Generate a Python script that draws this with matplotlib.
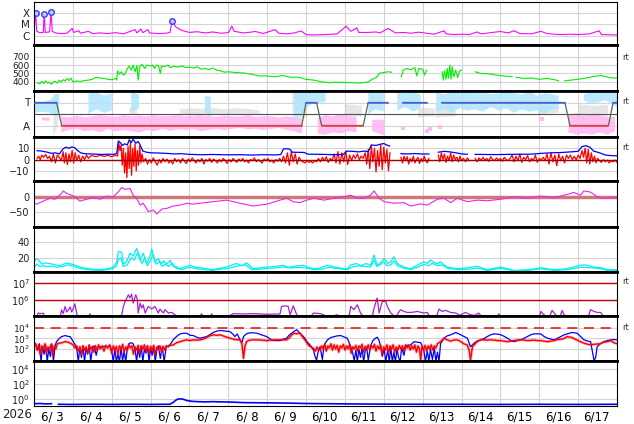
import numpy as np
import matplotlib.pyplot as plt
from matplotlib.ticker import NullLocator

nan = np.nan

# x axis: days since the left edge of the plot
day_labels = ['6/ 3', '6/ 4', '6/ 5', '6/ 6', '6/ 7', '6/ 8', '6/ 9', '6/10',
              '6/11', '6/12', '6/13', '6/14', '6/15', '6/16', '6/17']

# panel 1: X-ray flux (W/m2)
xray_t = [0.0, 0.04, 0.07, 0.15, 0.24, 0.26, 0.29, 0.40, 0.44, 0.47, 0.55, 0.7, 0.85, 0.98, 1.02,
          1.15, 1.2, 1.4, 1.5, 1.7, 1.9, 2.1, 2.3, 2.6, 2.65, 2.75, 2.8, 2.93, 2.97, 3.2, 3.4, 3.5,
          3.55, 3.65, 3.8, 4.0, 4.2, 4.4, 4.6, 4.8, 5.0, 5.09, 5.15, 5.4, 5.7, 5.9, 6.2, 6.3, 6.5,
          6.7, 6.87, 7.0, 7.2, 7.5, 7.8, 8.03, 8.15, 8.31, 8.35, 8.6, 8.8, 8.9, 9.11, 9.3, 9.5,
          9.7, 9.9, 10.1, 10.3, 10.55, 10.6, 10.8, 11.0, 11.2, 11.4, 11.5, 11.8, 12.0, 12.2, 12.35,
          12.5, 12.8, 13.04, 13.2, 13.5, 13.8, 14.0, 14.3, 14.54, 14.6, 15.0]
xray_f = [2.5e-6, 1.0e-4, 2.5e-6, 1.9e-6, 2.0e-6, 8.5e-5, 2.0e-6, 2.2e-6, 1.15e-4, 2.5e-6, 1.8e-6,
          1.6e-6, 1.7e-6, 4.5e-6, 2.0e-6, 2.8e-6, 1.7e-6, 2.5e-6, 1.6e-6, 1.8e-6, 1.6e-6, 1.9e-6,
          1.5e-6, 3.5e-6, 1.8e-6, 4.0e-6, 1.9e-6, 3.5e-6, 1.8e-6, 1.6e-6, 1.7e-6, 2.0e-6, 2.0e-5,
          6.0e-6, 3.0e-6, 2.0e-6, 2.3e-6, 1.8e-6, 2.2e-6, 1.7e-6, 1.9e-6, 7.0e-6, 2.5e-6, 1.8e-6,
          2.4e-6, 1.6e-6, 3.5e-6, 1.7e-6, 1.5e-6, 1.8e-6, 2.7e-6, 1.3e-6, 1.2e-6, 1.3e-6, 1.5e-6,
          7.0e-6, 2.5e-6, 5.0e-6, 2.0e-6, 2.0e-6, 2.2e-6, 1.8e-6, 4.5e-6, 1.8e-6, 2.0e-6, 1.7e-6,
          2.1e-6, 1.7e-6, 1.4e-6, 2.8e-6, 1.5e-6, 1.3e-6, 1.4e-6, 1.3e-6, 2.2e-6, 1.5e-6, 2.0e-6,
          2.4e-6, 1.8e-6, 2.8e-6, 1.6e-6, 1.5e-6, 2.5e-6, 1.6e-6, 1.3e-6, 1.4e-6, 1.3e-6, 1.5e-6,
          2.8e-6, 1.3e-6, 1.2e-6]
flare_t = [0.04, 0.26, 0.44, 3.55]
flare_f = [1.0e-4, 8.5e-5, 1.15e-4, 2.0e-5]

# panel 2: solar wind speed (km/s)
vsw_t = [0.08, 0.15, 0.2, 0.25, 0.3, 0.35, 0.4, 0.45, 0.5, 0.55, 0.6, 0.65, 0.7, 0.75, 0.8, 0.85,
         0.9, 0.95, 1.0, 1.1, 1.2, 1.3, 1.4, 1.5, 1.6, 1.7, 1.8, 1.9, 2.0, 2.1, 2.13, 2.15, 2.2,
         2.25, 2.3, 2.35, 2.4, 2.45, 2.5, 2.55, 2.6, 2.65, 2.68, 2.72, 2.78, 2.85, 2.9, 3.0, 3.05,
         3.1, 3.15, 3.2, 3.25, 3.28, 3.35, 3.45, 3.5, 3.6, 3.7, 3.8, 3.9, 4.0, 4.1, 4.2, 4.3, 4.4,
         4.5, 4.6, 4.7, 4.8, 4.9, 5.0, 5.2, 5.4, 5.6, 5.8, 6.0, 6.2, 6.4, 6.6, 6.8, 7.0, 7.2, 7.4,
         7.6, 7.8, 8.0, 8.2, 8.4, 8.6, 8.7, 8.8, 8.9, 9.0, 9.1, 9.2, 9.3, 9.45, 9.5, 9.6, 9.7,
         9.8, 9.85, 9.9, 10.0, 10.05, 10.1, 10.15, 10.5, 10.53, 10.56, 10.6, 10.63, 10.66, 10.7,
         10.73, 10.76, 10.8, 10.85, 10.9, 10.95, 11.0, 11.05, 11.2, 11.25, 11.35, 11.5, 11.7,
         11.9, 12.1, 12.3, 12.35, 12.4, 12.6, 12.8, 13.0, 13.2, 13.4, 13.5, 13.55, 13.65, 13.8,
         14.0, 14.2, 14.4, 14.6, 14.8, 15.0]
vsw_v = [390, 375, 405, 380, 410, 385, 395, 370, 400, 405, 385, 420, 400, 425, 410, 440,
         415, 445, 400, 410, 405, 415, 420, 430, 455, 445, 440, 430, 425, 440, 420, 530, 490,
         520, 480, 500, 555, 590, 540, 600, 520, 595, 420, 580, 610, 560, 600, 590, 600,
         560, 600, 595, 500, 590, 580, 600, 570, 585, 575, 590, 570, 575, 565, 580, 550, 560,
         545, 565, 540, 530, 515, 520, 510, 505, 490, 470, 470, 460, 475, 455, 455, 430, 420, 400,
         390, 395, 392, 390, 385, 400, 430, 450, 505, 510, 520, 515, nan, 460, 540, 560, 545,
         570, 470, 560, 550, 480, 540, nan, 520, 420, 530, 430, 560, 440, 600,
         430, 580, 460, 540, 450, 530, 540, nan, 540, nan, 520, 500, 495,
         480, 470, 460, nan, 455, 440, 445, 430, 440, 425, 410, nan, 410, 420,
         430, 445, 465, 475, 450, 445]

# panel 3: IMF sector (T = 1, A = -1) and angle clouds
sector_t = [0, 0.58, 0.71, 6.89, 7.0, 7.27, 7.4, 8.47, 8.6, 9.1, 9.11, 9.49, 10.11, 10.12,
            10.5, 13.66, 13.79, 14.78, 14.9, 15.0]
sector_v = [1, 1, -1, -1, 1, 1, -1, -1, 1, 1, nan, 1, 1, nan, 1, 1, -1, -1, 1, 1]

pink_t = [0.2, 0.4, 0.55, 0.7, 0.9, 1.1, 1.3, 1.5, 1.7, 1.9, 2.1, 2.3, 2.5, 2.7, 2.9, 3.1, 3.3,
          3.5, 3.7, 3.9, 4.1, 4.3, 4.5, 4.7, 4.9, 5.1, 5.3, 5.5, 5.7, 5.9, 6.1, 6.3, 6.5, 6.7,
          6.9, 7.05, 7.3, 7.5, 7.7, 7.9, 8.1, 8.3, 8.45, 8.7, 9.03, 9.1, 13.75, 13.95, 14.15,
          14.35, 14.55, 14.75, 14.95]
pink_lo = [-0.55, -0.6, nan, -1.6, -1.4, -1.3, -1.5, -1.4, -1.6, -1.3, -1.5, -1.4, -1.5, -1.6,
           -1.4, -1.5, -1.3, -1.45, -1.35, -1.4, -1.3, -1.5, -1.4, -1.3, -1.4, -1.3, -1.2, -1.35,
           -1.3, -1.4, -1.3, -1.2, -1.4, -1.5, -1.7, nan, -1.7, -1.8, -1.6, -1.7, -1.5, -1.6, nan,
           -1.5, -1.9, nan, -1.6, -1.8, -1.7, -1.8, -1.6, -1.8, -1.5]
pink_hi = [-0.3, -0.3, nan, -0.2, -0.3, -0.15, -0.3, -0.2, -0.1, -0.2, -0.25, -0.1, -0.2, -0.15,
           -0.2, -0.1, -0.2, -0.15, -0.1, -0.2, -0.15, -0.1, -0.2, -0.25, -0.15, -0.2, -0.2, -0.1,
           -0.25, -0.2, -0.2, -0.3, -0.2, -0.3, -0.4, nan, -0.3, -0.1, -0.2, 0.0, -0.2, -0.3, nan,
           -0.5, -0.5, nan, -0.1, 0.1, -0.2, 0.0, -0.1, -0.3, -0.2]
pink_dot_t = [9.5, 10.12, 10.2, 10.45, 13.06, 8.8]
pink_dot_v = [-1.2, -1.5, -1.3, -1.1, -0.4, -1.0]

blue_t = [0.0, 0.2, 0.4, 0.55, 0.65, 0.75, 1.4, 1.6, 1.8, 2.0, 2.1, 2.5, 2.7, 2.8, 3.6, 3.65,
          4.4, 4.55, 4.65, 6.7, 6.9, 7.1, 7.3, 7.5, 7.6, 8.0, 8.1, 8.6, 8.8, 9.0, 9.2, 9.35, 9.55,
          9.75, 9.95, 10.1, 10.35, 10.55, 10.75, 10.95, 11.15, 11.35, 11.55, 11.75, 11.95, 12.15,
          12.35, 12.55, 12.75, 12.95, 13.15, 13.35, 13.5, 13.6, 14.15, 14.3, 14.5, 14.7, 14.9, 15.0]
blue_lo = [0.1, 0.2, 0.1, -0.2, 0.3, nan, 0.0, 0.4, 0.1, 0.3, nan, 0.2, 0.5, nan, 0.6, nan,
           0.0, -0.3, nan, -0.5, 0.0, 0.8, 1.0, 1.0, nan, 1.5, nan, 0.0, 0.4, 0.2, nan, 0.3, 0.6,
           0.2, 0.5, nan, 0.2, 0.4, 0.1, 0.5, 0.3, 0.4, 0.2, 0.6, 0.3, 0.5,
           0.1, 0.4, 0.2, 0.3, 0.0, 0.4, 0.5, nan, 1.2, 0.9, 1.0, 1.2, 0.8, 0.6]
blue_hi = [1.1, 1.0, 1.2, 1.7, 1.8, nan, 1.8, 1.9, 1.6, 1.8, nan, 1.9, 1.7, nan, 1.0, nan,
           1.6, 1.5, nan, 1.9, 1.8, 1.9, 1.9, 1.8, nan, 1.9, nan, 1.9, 1.8, 1.9, nan, 1.9, 1.8,
           1.9, 1.7, nan, 1.9, 1.7, 1.9, 1.8, 1.9, 1.8, 1.9, 1.7, 1.8, 1.9,
           1.8, 1.7, 1.9, 1.6, 1.8, 1.7, 1.6, nan, 1.7, 1.9, 1.8, 1.9, 1.9, 1.8]

gray_t = [0.5, 0.62, 0.7, 2.45, 2.65, 2.7, 3.75, 4.0, 4.3, 4.6, 4.9, 5.2, 5.5, 5.8, 6.0, 6.65,
          7.0, 7.05, 8.0, 8.44, 8.5, 9.88, 10.3, 10.32, 10.33, 10.85, 10.9, 12.97, 13.5, 13.55,
          14.0, 14.4, 14.77, 14.8]
gray_lo = [-1.9, -1.0, nan, 0.0, 0.0, nan, 0.0, -0.1, 0.0, -0.1, 0.0, -0.1, 0.0, 0.0, nan, -0.5,
           -0.3, nan, -0.3, -0.2, nan, -0.3, -0.2, nan, -0.3, -0.2, nan, 0.0, 0.1, nan,
           -0.6, -0.4, -0.5, nan]
gray_hi = [1.8, 1.5, nan, 0.55, 0.5, nan, 0.4, 0.5, 0.45, 0.55, 0.4, 0.5, 0.45, 0.3, nan, 1.9,
           1.8, nan, 0.85, 0.7, nan, 0.55, 0.5, nan, 0.85, 0.6, nan, 0.85, 0.6, nan,
           0.85, 0.7, 0.8, nan]

# panel 4: IMF Bt (blue) and Bz (red), nT
bt_t = [0.08, 0.2, 0.35, 0.45, 0.55, 0.65, 0.75, 0.82, 0.9, 0.97, 1.05, 1.12, 1.2, 1.3, 1.45,
        1.6, 1.75, 1.9, 2.05, 2.13, 2.17, 2.22, 2.28, 2.33, 2.4, 2.45, 2.5, 2.55, 2.62, 2.68,
        2.73, 2.8, 2.9, 3.0, 3.2, 3.4, 3.6, 3.8, 4.0, 4.3, 4.6, 5.0, 5.3, 5.6, 5.9, 6.2, 6.35,
        6.42, 6.5, 6.58, 6.65, 6.8, 6.95, 7.05, 7.2, 7.45, 7.7, 7.95, 8.05, 8.2, 8.35, 8.5, 8.6,
        8.68, 8.8, 8.9, 9.0, 9.08, 9.15, 9.2, 9.44, 9.6, 9.8, 10.0, 10.16, 10.2, 10.4, 10.55,
        10.7, 10.85, 11.0, 11.15, 11.25, 11.35, 11.6, 11.9, 12.2, 12.5, 12.8, 13.05, 13.3,
        13.55, 13.8, 14.0, 14.1, 14.2, 14.3, 14.4, 14.55, 14.7, 14.85, 15.0]
bt_v = [7.9, 7.5, 6.5, 5.5, 6.0, 5.0, 9.5, 11.0, 10.0, 11.2, 10.5, 8.0, 6.0, 5.2, 5.0,
        4.8, 4.5, 4.8, 4.6, 5.5, 16.5, 15.0, 12.5, 14.0, 13.0, 17.5, 15.0, 18.0, 14.5, 16.0,
        13.0, 7.5, 6.5, 6.0, 5.8, 5.5, 5.0, 5.2, 4.6, 4.3, 4.5, 4.2, 4.3, 4.0, 4.3, 4.1, 4.5,
        9.4, 9.6, 9.2, 6.5, 6.4, 6.3, 4.8, 4.7, 4.6, 4.3, 4.5, 7.5, 7.3, 6.8, 7.5, 7.0,
        13.0, 12.5, 13.5, 14.2, 12.8, 12.0, nan, 5.2, 5.0, 5.3, 4.9, 5.0, nan, 6.5, 7.3,
        6.8, 6.0, 5.0, 4.7, nan, 4.6, 4.5, 4.4, 4.6, 4.7, 4.8, 5.5, 6.0,
        6.2, 6.8, 7.3, 11.5, 12.3, 11.0, 7.5, 6.0, 4.0, 3.5, 3.3]

bz_t = [0.08, 0.12, 0.16, 0.2, 0.25, 0.3, 0.35, 0.4, 0.45, 0.5, 0.55, 0.6, 0.65, 0.7,
        0.75, 0.78, 0.82, 0.86, 0.9, 0.94, 0.98, 1.02, 1.06, 1.1,
        1.15, 1.2, 1.25, 1.3, 1.35, 1.4, 1.45, 1.5, 1.6, 1.7, 1.8, 1.9, 2.0, 2.1,
        2.15, 2.18, 2.21, 2.24, 2.27, 2.3, 2.33, 2.36, 2.39, 2.42, 2.45, 2.48, 2.51, 2.54,
        2.57, 2.6, 2.63, 2.66, 2.69, 2.72, 2.75, 2.78,
        2.82, 2.87, 2.92, 2.97, 3.02, 3.07, 3.12, 3.17, 3.22, 3.27, 3.32, 3.37, 3.42, 3.47,
        3.52, 3.57, 3.62, 3.67, 3.72, 3.77, 3.82, 3.87, 3.92, 3.97, 4.02, 4.07, 4.12, 4.17,
        4.22, 4.27, 4.32, 4.37, 4.42, 4.47, 4.52, 4.57, 4.62, 4.67, 4.72, 4.77, 4.82, 4.87,
        4.92, 4.97, 5.02, 5.07, 5.12, 5.17, 5.22, 5.27, 5.32, 5.37, 5.42, 5.47, 5.52, 5.57,
        5.62, 5.67, 5.72, 5.77, 5.82, 5.87, 5.92, 5.97, 6.02, 6.07, 6.12, 6.17, 6.22, 6.27,
        6.32, 6.37, 6.42, 6.47, 6.52, 6.57, 6.62, 6.67, 6.72, 6.77, 6.82, 6.87,
        6.92, 6.97, 7.02, 7.07, 7.12, 7.17, 7.22, 7.27, 7.32, 7.37, 7.42, 7.47, 7.52, 7.57,
        7.62, 7.67, 7.72, 7.77, 7.82, 7.87, 7.92, 7.97, 8.02, 8.07, 8.12, 8.17,
        8.22, 8.27, 8.32, 8.37, 8.42, 8.47, 8.52, 8.56, 8.6, 8.64, 8.68, 8.72, 8.76, 8.8,
        8.84, 8.88, 8.92, 8.96, 9.0, 9.04, 9.08, 9.12, 9.16, 9.19,
        9.44, 9.48, 9.52, 9.56, 9.6, 9.64, 9.68, 9.72, 9.76, 9.8, 9.84, 9.88, 9.92, 9.96,
        10.0, 10.04, 10.08, 10.12, 10.16, 10.2,
        10.4, 10.44, 10.48, 10.52, 10.56, 10.6, 10.64, 10.68, 10.72, 10.76, 10.8, 10.84,
        10.88, 10.92, 10.96, 11.0, 11.05, 11.1, 11.15, 11.2, 11.25, 11.35, 11.4,
        11.45, 11.5, 11.55, 11.6, 11.65, 11.7, 11.75, 11.8, 11.85, 11.9, 11.95, 12.0, 12.05,
        12.1, 12.15, 12.2, 12.25,
        12.3, 12.35, 12.4, 12.45, 12.5, 12.55, 12.6, 12.65, 12.7, 12.75, 12.8, 12.85, 12.9,
        12.95, 13.0, 13.05, 13.1,
        13.15, 13.2, 13.25, 13.3, 13.35, 13.4, 13.45, 13.5, 13.55, 13.6, 13.65, 13.7,
        13.75, 13.8, 13.85, 13.9, 13.95, 14.0, 14.05,
        14.1, 14.14, 14.18, 14.22, 14.26, 14.3, 14.34, 14.38, 14.42, 14.46, 14.5,
        14.55, 14.6, 14.65, 14.7, 14.75, 14.8, 14.85, 14.9, 14.95, 15.0]
bz_v = [1, 3, 0, 4, 2, 4.5, 1, 3, -2, 5, -3, 4, 2, -1,
        7, -3, 6, -4.5, 5, -2, 8, -3, 6, -1,
        4, -2, 3, 0, 4, 1, 3, 3.5, 2.5, 4, 2.8, 3.8, 2.5, 4,
        3, 15, 8, 13, -5, 10, -12, 6, -16, 12, -8, 15, -14, 10,
        -6, 14, -10, 8, -5, 12, -3, 5,
        -2, 1, -4, 0, -3, 1.5, -2, -5, 0, -3, 1, -2, 0.5, -3,
        -1, -4, 1, -2, 0, -3, 1, -1.5, -3.5, 0.5, -2, 1.5, -1, -3,
        0, -2, 1, -4, 0, -1.5, 1, -2.5, 0.5, -1, -3, 0, -2, 1,
        -1, -3.5, 0, -2, 1, -1, -2.5, 0.5, -1.5, 1, -2, -0.5, -3, 0,
        -1, 1.5, -2, 0, -1.5, -3, 0.5, -1, 1, -2, -0.5, -3, 0, -1.5,
        1, -2, 3, -3, 6, -5, 7, -2, 5, -4, 2, -1,
        -2, -3, -1, -2.5, -1.5, -3, -1, -2, 1, -2, 2, -1, 2.5, -2.5,
        1, -1, 5, -3, 7, -4, 6, -2, 7.5, -4.5, 4, -1,
        4, 1, 5, 0, 3, 1, 6, -4, 9, -8, 12, -2, 10, -11,
        8, -6, 13, -9, 11, -3, 9, -10, 6, nan,
        2, -3, 3, -1, 2.5, -4, 1, -2, 3, -3, 0, 2, -3.5, 1,
        -2, 3, -1, -3, 1, nan,
        4, -2, 6, 0, 5, -2.5, 3, -1, 6, -2, 4, 0,
        2, -2, 3, -1, 1, -2, 1.5, -1, nan, 1, -2,
        1.5, -1, 2, -0.5, 1, -1.5, 2.5, 0, -1, 1.5, -0.5, 1, -1.5,
        2, 0, -1, 1,
        4, -2, 3, -1, 5, -2.5, 2, 0, 3.5, -2, 1, -1, 4,
        -2.5, 1, -0.5, 2,
        -1, 5, -4, 6, -2, 4, -5.5, 5, -1, 3, -3, 4,
        1, 4, 0, 3, -0.5, 4, 1,
        8, 2, 10, -3, 9, -4, 6, -2, 3, -3, 1,
        -1, -2.5, 0, -2, -0.5, -3, -1, -2, -0.5, -2.5]

# panel 5: Dst (nT)
dst_t = [0.0, 0.07, 0.24, 0.41, 0.54, 0.71, 0.75, 0.84, 0.97, 1.05, 1.18, 1.36, 1.53, 1.70,
         1.87, 2.04, 2.17, 2.26, 2.34, 2.47, 2.55, 2.64, 2.73, 2.81, 2.94, 3.07, 3.16, 3.29,
         3.41, 3.58, 3.76, 3.93, 4.10, 4.27, 4.61, 4.96, 5.30, 5.64, 5.99, 6.33, 6.50, 6.67,
         6.84, 7.02, 7.20, 7.46, 7.72, 7.97, 8.15, 8.32, 8.49, 8.66, 8.75, 8.88, 9.01, 9.26,
         9.52, 9.69, 9.95, 10.12, 10.38, 10.55, 10.72, 10.89, 11.15, 11.41, 11.66, 12.01,
         12.35, 12.69, 13.04, 13.38, 13.72, 13.89, 14.06, 14.15, 14.32, 14.49, 14.66, 14.92, 15.0]
dst_v = [-21, -24, -14, -5, -8, 11, 19, 11, 5, 0, -14, -8, -2, -8,
         2, 0, 16, 30, 24, 27, 5, -5, -27, -21, -48, -43, -56, -40,
         -38, -30, -27, -21, -24, -21, -16, -11, -21, -30, -24, -11, -5, -16,
         -19, -11, -5, -11, -5, 0, 5, -5, -5, 5, 19, -5, -16, -21,
         -19, -30, -23, -27, -8, -5, -19, -5, -16, -11, -13, -8,
         0, -5, 2, -3, 7.5, 14, 5, 19, 15, 0, -5, -3, -3]

# panel 6: proton density, two sources
dens_a_t = [0.0, 0.05, 0.12, 0.2, 0.3, 0.41, 0.55, 0.67, 0.84, 0.97, 1.1, 1.18, 1.36, 1.5, 1.7,
            1.9, 2.04, 2.13, 2.17, 2.22, 2.26, 2.3, 2.38, 2.47, 2.55, 2.64, 2.7, 2.73, 2.81, 2.9,
            2.98, 3.03, 3.11, 3.2, 3.28, 3.33, 3.42, 3.5, 3.58, 3.7, 3.76, 4.01, 4.15, 4.27,
            4.45, 4.61, 4.8, 4.96, 5.1, 5.21, 5.35, 5.47, 5.64, 5.8, 5.99, 6.2, 6.41, 6.55,
            6.67, 6.8, 6.93, 7.05, 7.19, 7.35, 7.55, 7.8, 8.06, 8.15, 8.3, 8.4, 8.55, 8.66,
            8.75, 8.8, 8.83, 8.92, 9.01, 9.1, 9.18, 9.26, 9.35, 9.45, 9.52, 9.69, 9.86, 9.95,
            10.03, 10.12, 10.2, 10.3, 10.38, 10.46, 10.55, 10.63, 10.89, 11.1, 11.41, 11.66,
            12.01, 12.2, 12.35, 12.69, 12.9, 13.04, 13.2, 13.38, 13.55, 13.72, 13.9, 14.06,
            14.2, 14.32, 14.45, 14.58, 14.75, 15.0]
dens_a_v = [14, 19, 17, 12, 13.5, 12.7, 11, 10, 13.5, 12, 10, 8.3, 6.5, 5.5, 5,
            6, 8.3, 14.8, 27.8, 28, 26, 12, 14.8, 25.7, 22, 32, 24, 17, 25.7, 13,
            21.3, 31, 15, 19, 12, 16, 12, 17, 9, 8, 6.2, 10.5, 8, 7.5,
            6, 5, 7, 8.3, 11, 12.7, 10, 13.5, 6.2, 7, 8.3, 9, 10.5, 8,
            9.2, 10, 10.5, 8, 6.2, 7, 10.5, 7.5, 6, 11, 12.7, 10, 12.7, 10.5,
            23.5, 15, 10.5, 14, 19.2, 13, 14.8, 21.3, 12.7, 10, 8.3, 6.2, 10.5, 13,
            14.8, 13, 17, 14, 12.7, 14.8, 11, 8.3, 6.2, 7, 9.2, 5,
            8.3, 6, 4, 4.9, 6, 7.5, 6, 4.9, 5.5, 6.2, 8.5, 10.5,
            11, 9.2, 8, 7.5, 4.9, 4.9]
dens_b_t = [0.0, 0.08, 0.15, 0.25, 0.35, 0.45, 0.6, 0.75, 0.88, 1.0, 1.15, 1.3, 1.5, 1.7, 1.9,
            2.04, 2.13, 2.17, 2.24, 2.3, 2.4, 2.5, 2.58, 2.66, 2.72, 2.78, 2.85, 2.92, 3.0, 3.06,
            3.14, 3.22, 3.3, 3.38, 3.46, 3.55, 3.65, 3.8, 4.0, 4.2, 4.4, 4.6, 4.8, 5.0, 5.15,
            5.3, 5.45, 5.6, 5.8, 6.0, 6.2, 6.4, 6.6, 6.8, 7.0, 7.2, 7.4, 7.6, 7.85, 8.06, 8.2,
            8.35, 8.5, 8.66, 8.75, 8.82, 8.9, 9.0, 9.08, 9.18, 9.26, 9.35, 9.5, 9.7, 9.86,
            10.03, 10.15, 10.25, 10.38, 10.5, 10.65, 10.9, 11.2, 11.4, 11.66, 12.0, 12.35, 12.7,
            13.04, 13.4, 13.72, 14.06, 14.3, 14.58, 14.75, 15.0]
dens_b_v = [8, 12, 9, 10, 8.5, 9.5, 8, 9, 11, 9.5, 7, 5.5, 4.5, 4, 5,
            6.5, 10, 18, 20, 9, 11, 20, 17, 26, 19, 13, 20, 10, 17, 24,
            12, 15, 9, 12, 9, 13, 7, 5, 8, 6, 5, 4, 5.5, 6.5, 8.5,
            10, 11, 5, 5.5, 6.5, 7, 8.5, 7, 8, 7, 5, 5.5, 8, 6, 5, 8.5,
            10, 9, 8.5, 17, 9, 11, 15, 10, 11, 16, 10, 7, 5, 8,
            11.5, 10, 13, 10, 11, 6.5, 5, 5.5, 7, 4, 6.5, 3.5, 4,
            6, 4, 5, 8, 7.5, 6, 4, 4]

# panel 7: >2 MeV electron flux, log10
elec_t = [0.0, 0.07, 0.11, 0.15, 0.24, 0.28, 0.6, 0.67, 0.71, 0.75, 0.8, 0.84, 0.88, 0.93, 0.97,
          1.01, 1.05, 1.11, 1.2, 1.4, 1.44, 1.48, 2.2, 2.26, 2.3, 2.34, 2.43, 2.47, 2.51, 2.55,
          2.62, 2.66, 2.68, 2.73, 2.77, 2.81, 2.86, 2.94, 3.03, 3.11, 3.2, 3.24, 3.33, 3.37,
          3.46, 3.54, 3.63, 3.7, 4.25, 4.31, 4.37, 4.52, 4.57, 4.62, 5.05, 5.13, 5.4, 5.64,
          6.0, 6.33, 6.37, 6.46, 6.54, 6.59, 6.67, 6.76, 6.85, 7.1, 7.19, 7.36, 7.45, 7.55,
          7.8, 7.9, 8.1, 8.15, 8.23, 8.32, 8.4, 8.5, 8.7, 8.75, 8.83, 8.88, 8.96, 9.05, 9.09,
          9.18, 9.3, 9.43, 9.52, 9.6, 9.69, 9.8, 9.86, 9.95, 10.03, 10.12, 10.2, 10.35, 10.42,
          10.5, 10.59, 10.72, 10.85, 10.95, 11.1, 11.23, 11.35, 11.44, 11.55, 11.9, 11.96,
          12.02, 13.0, 13.04, 13.12, 13.25, 13.33, 13.42, 13.52, 13.59, 13.63, 13.8, 14.25,
          14.32, 14.41, 14.49, 14.58, 14.62, 14.7, 15.0]
elec_log = [4.9, 4.95, 5.24, 5.2, 5.22, 4.95, 4.9, 5.0, 5.43, 5.2, 5.62, 5.3, 5.4, 5.59, 5.3,
            5.5, 5.78, 5.1, 4.9, 5.0, 5.19, 4.95, 4.95, 5.14, 5.62, 5.9, 6.31, 6.12, 6.35, 5.82,
            6.31, 6.02, 5.235, 5.82, 5.53, 5.72, 5.235, 5.625, 5.47, 5.625, 5.235, 5.47, 5.235, 5.43,
            5.235, 5.27, 5.135, 4.95, 4.95, 5.19, 4.95, 4.95, 5.19, 4.95, 5.1, 5.2, 5.18, 5.2,
            5.16, 5.18, 5.625, 5.66, 5.625, 5.135, 5.66, 5.135, 4.95, 4.95, 5.235, 5.2, 5.14, 4.95,
            5.135, 4.95, 4.95, 5.625, 5.43, 5.72, 5.235, 4.95, 5.0, 5.53, 6.12, 5.235, 5.92, 5.92, 5.625,
            5.235, 5.0, 5.43, 5.33, 5.27, 5.27, 5.3, 5.33, 5.28, 5.235, 5.27, 4.95, 5.0, 5.47,
            5.33, 5.39, 5.27, 5.235, 5.1, 5.27, 5.135, 5.1, 5.235, 4.95, 4.95, 5.19,
            4.95, 4.95, 5.33, 5.135, 4.95, 5.39, 5.135, 4.95, 5.39, 5.135, 4.95, 4.95,
            5.43, 5.33, 5.27, 5.27, 5.135, 4.95, 4.95]

# panel 8: particle flux, log10 (blue and red)
p8_blue_t = [0.0, 0.05, 0.1, 0.14, 0.18, 0.22, 0.26, 0.3, 0.34, 0.38, 0.42, 0.46, 0.5, 0.54, 0.58,
             0.65, 0.71, 0.8, 0.88, 0.93, 1.01, 1.06, 1.1, 1.14, 1.18, 1.22, 1.26, 1.3, 1.34, 1.38,
             1.42, 1.46, 1.5, 1.55, 1.6, 1.65, 1.7, 1.8, 1.9, 1.96, 2.0, 2.04, 2.08, 2.12, 2.16,
             2.2, 2.24, 2.28, 2.32, 2.36, 2.4, 2.44, 2.5, 2.55, 2.6, 2.64, 2.68, 2.72, 2.76, 2.8,
             2.84, 2.88, 2.92, 2.96, 3.0, 3.04, 3.08, 3.12, 3.16, 3.2, 3.25, 3.3, 3.35, 3.4, 3.45,
             3.5, 3.58, 3.67, 3.76, 3.85, 3.93, 4.02, 4.1, 4.2, 4.27, 4.35, 4.44, 4.52, 4.61, 4.7,
             4.79, 4.9, 5.04, 5.12, 5.17, 5.23, 5.3, 5.35, 5.39, 5.45, 5.51, 5.6, 5.73, 5.85, 5.99,
             6.08, 6.16, 6.25, 6.33, 6.42, 6.5, 6.56, 6.63, 6.7, 6.76, 6.84, 6.9, 6.97, 7.02, 7.06,
             7.12, 7.19, 7.23, 7.27, 7.32, 7.36, 7.42, 7.46, 7.5, 7.55, 7.64, 7.72, 7.8, 7.89, 7.98,
             8.06, 8.15, 8.2, 8.24, 8.28, 8.32, 8.36, 8.4, 8.44, 8.48, 8.52, 8.56, 8.6, 8.66, 8.72,
             8.79, 8.83, 8.88, 8.92, 8.96, 9.01, 9.05, 9.1, 9.14, 9.18, 9.22, 9.26, 9.3, 9.34, 9.38,
             9.42, 9.46, 9.52, 9.56, 9.6, 9.69, 9.78, 9.86, 9.95, 10.03, 10.07, 10.12, 10.16, 10.2,
             10.25, 10.3, 10.34, 10.38, 10.42, 10.46, 10.55, 10.63, 10.72, 10.85, 10.98, 11.06,
             11.15, 11.23, 11.32, 11.4, 11.49, 11.58, 11.66, 11.75, 11.83, 11.92, 12.01, 12.1,
             12.18, 12.27, 12.35, 12.44, 12.52, 12.6, 12.69, 12.78, 12.86, 12.95, 13.04, 13.12,
             13.21, 13.3, 13.38, 13.46, 13.55, 13.64, 13.72, 13.84, 13.97, 14.06, 14.15, 14.25,
             14.32, 14.38, 14.41, 14.45, 14.49, 14.57, 14.66, 14.75, 14.84, 14.92, 15.0]
p8_blue_log = [2.7, 2.4, 1.9, 2.5, 0.8, 2.2, 1.5, 2.4, 0.8, 2.0, 1.3, 2.5, 0.8, 2.3, 2.7,
               3.0, 3.18, 3.28, 3.2, 3.18, 2.7, 2.4, 2.0, 0.8, 2.2, 1.2, 2.3, 0.8, 2.1, 1.5,
               2.4, 0.8, 2.0, 2.3, 1.4, 2.2, 2.2, 2.25, 2.2, 2.3, 1.8, 0.8, 2.0, 0.8, 1.5,
               0.8, 2.1, 0.9, 1.8, 0.8, 2.0, 2.5, 2.6, 2.5, 2.0, 0.8, 2.1, 1.2, 2.3, 0.8,
               2.0, 1.6, 2.3, 0.8, 2.1, 1.4, 2.2, 0.8, 1.9, 2.3, 1.1, 2.2, 0.8, 2.2, 2.3,
               2.4, 2.87, 3.2, 3.44, 3.5, 3.5, 3.3, 3.28, 3.1, 3.03, 3.1, 3.18, 3.35, 3.57, 3.7,
               3.76, 3.72, 3.66, 3.4, 3.18, 3.44, 2.87, 2.6, 3.18, 3.4, 3.51, 3.55, 3.51, 3.35, 3.18,
               2.95, 2.8, 2.8, 2.8, 2.95, 3.03, 3.3, 3.51, 3.7, 3.83, 3.51, 3.3, 3.03, 2.7, 2.55,
               2.3, 1.9, 1.3, 0.94, 1.9, 2.2, 1.0, 2.3, 2.6, 2.87, 3.1, 3.18, 3.25, 3.28, 3.15,
               3.03, 2.22, 1.6, 0.9, 1.9, 0.8, 2.0, 1.2, 2.1, 0.8, 1.8, 2.2, 0.9, 2.3, 2.8,
               3.03, 3.12, 2.8, 2.22, 1.3, 2.0, 0.8, 1.9, 0.8, 2.1, 0.8, 1.7, 0.8, 2.0, 1.2,
               0.8, 2.1, 1.4, 2.3, 2.35, 2.38, 2.7, 2.65, 2.61, 1.9, 0.8, 1.8, 0.8, 2.0,
               1.0, 2.1, 0.8, 1.7, 0.8, 2.5, 3.03, 3.25, 3.35, 3.57, 3.35, 3.2,
               3.03, 2.22, 2.55, 2.75, 2.87, 3.0, 3.18, 3.35, 3.44, 3.42, 3.35, 3.2,
               3.03, 2.8, 2.7, 2.8, 2.87, 3.0, 3.18, 3.35, 3.44, 3.44, 3.44, 3.2,
               3.03, 2.95, 2.87, 3.0, 3.18, 3.35, 3.44, 3.57, 3.51, 3.2, 2.87, 2.75,
               2.7, 1.5, 0.9, 1.2, 2.22, 2.5, 2.7, 2.8, 2.87, 2.9, 2.87]

p8_red_t = [0.0, 0.04, 0.08, 0.12, 0.16, 0.2, 0.24, 0.28, 0.32, 0.36, 0.4, 0.44, 0.48, 0.52, 0.56,
            0.6, 0.65, 0.72, 0.8, 0.88, 0.96, 1.01, 1.05, 1.1, 1.14, 1.18, 1.22, 1.26, 1.3, 1.34,
            1.38, 1.42, 1.46, 1.5, 1.54, 1.58, 1.62, 1.66, 1.7, 1.75, 1.8, 1.85, 1.9, 1.95, 2.0,
            2.04, 2.08, 2.12, 2.16, 2.2, 2.24, 2.28, 2.32, 2.36, 2.4, 2.44, 2.48, 2.52, 2.56, 2.6,
            2.64, 2.68, 2.72, 2.76, 2.8, 2.84, 2.88, 2.92, 2.96, 3.0, 3.04, 3.08, 3.12, 3.16, 3.2,
            3.24, 3.28, 3.32, 3.36, 3.4, 3.45, 3.5, 3.58, 3.67, 3.76, 3.85, 3.93, 4.02, 4.1, 4.2,
            4.27, 4.36, 4.44, 4.52, 4.61, 4.7, 4.79, 4.9, 5.04, 5.17, 5.3, 5.35, 5.39, 5.43, 5.47,
            5.51, 5.62, 5.73, 5.85, 5.99, 6.1, 6.2, 6.33, 6.42, 6.5, 6.58, 6.63, 6.7, 6.76, 6.84,
            6.9, 6.97, 7.06, 7.12, 7.19, 7.24, 7.28, 7.32, 7.36, 7.4, 7.44, 7.48, 7.52, 7.56, 7.6,
            7.64, 7.68, 7.72, 7.76, 7.8, 7.84, 7.88, 7.92, 7.96, 8.0, 8.04, 8.08, 8.12, 8.16, 8.2,
            8.24, 8.28, 8.32, 8.36, 8.4, 8.44, 8.48, 8.52, 8.56, 8.6, 8.64, 8.68, 8.72, 8.76, 8.8,
            8.84, 8.88, 8.92, 8.96, 9.0, 9.04, 9.08, 9.12, 9.16, 9.2, 9.24, 9.28, 9.32, 9.36, 9.4,
            9.44, 9.48, 9.52, 9.56, 9.6, 9.64, 9.68, 9.72, 9.76, 9.8, 9.84, 9.88, 9.92, 9.95, 9.98,
            10.02, 10.06, 10.1, 10.14, 10.18, 10.22, 10.26, 10.3, 10.34, 10.38, 10.46, 10.55,
            10.63, 10.72, 10.8, 10.9, 10.98, 11.06, 11.15, 11.2, 11.23, 11.28, 11.32, 11.4, 11.49,
            11.58, 11.66, 11.75, 11.83, 11.92, 12.01, 12.1, 12.18, 12.27, 12.35, 12.44, 12.52,
            12.6, 12.69, 12.78, 12.86, 12.95, 13.04, 13.12, 13.21, 13.3, 13.38, 13.46, 13.55,
            13.64, 13.72, 13.84, 13.97, 14.06, 14.15, 14.25, 14.32, 14.41, 14.49, 14.57, 14.66,
            14.75, 14.84, 14.92, 15.0]
p8_red_log = [2.22, 2.5, 1.9, 2.4, 1.5, 2.3, 1.9, 2.5, 1.6, 2.2, 2.0, 2.45, 1.4, 2.3, 2.0,
              2.5, 2.55, 2.6, 2.7, 2.65, 2.5, 2.38, 2.1, 2.3, 1.8, 2.2, 1.5, 2.3, 1.9, 2.2,
              1.6, 2.35, 2.0, 2.25, 1.7, 2.3, 1.9, 2.4, 2.0, 2.3, 1.8, 2.35, 2.1, 2.4, 1.6,
              2.3, 1.9, 2.25, 1.5, 2.3, 2.0, 2.45, 1.7, 2.2, 1.9, 2.4, 2.1, 2.3, 1.5, 2.2,
              1.9, 2.35, 1.6, 2.3, 2.0, 2.4, 1.8, 2.3, 1.6, 2.25, 1.9, 2.35, 1.4, 2.2, 2.0,
              2.3, 1.7, 2.25, 1.9, 2.3, 2.2, 2.35, 2.38, 2.6, 2.7, 2.8, 2.87, 2.8, 2.87, 2.85,
              2.87, 2.95, 3.1, 3.25, 3.35, 3.3, 3.35, 3.2, 3.03, 2.9, 2.87, 2.5, 1.11, 2.3, 2.7,
              2.8, 2.87, 2.87, 2.85, 2.8, 2.85, 2.87, 2.87, 2.87, 2.87, 3.1, 3.35, 3.5, 3.45, 3.51,
              3.2, 2.87, 2.38, 2.2, 2.07, 1.8, 2.2, 1.9, 1.9, 2.3, 2.0, 2.45, 1.8, 2.3, 2.1,
              2.5, 1.9, 2.4, 2.0, 2.35, 1.7, 2.3, 2.1, 2.45, 1.9, 2.3, 2.0, 2.4, 1.6, 2.2,
              2.0, 2.35, 1.8, 2.3, 2.1, 2.45, 1.7, 2.25, 2.0, 2.4, 1.9, 2.3, 2.1, 2.45, 1.8,
              2.3, 2.0, 2.35, 1.5, 2.2, 1.9, 2.4, 1.6, 2.3, 2.0, 2.4, 1.7, 2.2, 1.9, 2.35,
              2.0, 2.3, 1.8, 2.4, 2.1, 2.35, 1.9, 2.3, 2.0, 2.4, 1.7, 2.3, 2.0, 0.94, 2.2,
              1.9, 2.35, 1.8, 2.3, 2.0, 2.4, 1.9, 2.3, 2.1, 2.5, 2.7, 3.03,
              2.87, 2.75, 2.85, 2.87, 2.7, 2.5, 2.38, 1.8, 0.94, 2.2, 2.38, 2.7, 2.87,
              2.87, 2.85, 2.87, 2.85, 2.8, 2.8, 2.75, 2.7, 2.75, 2.8, 2.85, 2.87,
              2.85, 2.8, 2.82, 2.85, 2.8, 2.8, 2.75, 2.7, 2.75, 2.8, 2.9, 2.93,
              3.0, 3.18, 3.1, 2.85, 2.7, 2.55, 2.45, 2.4, 2.45, 2.48, 2.5, 2.65,
              2.7, 2.8, 2.6, 2.5]

# panel 9: flux, log10
p9_t = [0.0, 0.15, 0.3, 0.45, 0.5, 0.63, 1.0, 1.5, 2.0, 2.5, 3.0, 3.3, 3.5, 3.58, 3.65, 3.71,
        3.8, 3.88, 3.93, 4.06, 4.2, 4.4, 4.6, 4.8, 5.0, 5.13, 5.4, 5.8, 6.2, 6.6, 7.0, 7.4,
        8.0, 9.0, 10.0, 11.0, 12.0, 13.0, 14.0, 15.0]
p9_log = [-0.62, -0.6, -0.65, -0.62, nan, -0.7, -0.72, -0.7, -0.72, -0.7, -0.72, -0.7, -0.7,
          -0.45, -0.15, 0.0, 0.02, -0.1, -0.2, -0.3, -0.35, -0.38, -0.35, -0.38, -0.4, -0.42,
          -0.48, -0.5, -0.52, -0.55, -0.6, -0.62, -0.65, -0.68, -0.7, -0.7, -0.72, -0.7, -0.72, -0.7]

W, H = 634, 424
fig = plt.figure(figsize=(W / 100, H / 100), dpi=100)
plt.rcParams['font.family'] = 'DejaVu Sans'

rows = [(2, 45), (45, 91), (91, 137), (137, 181), (181, 227),
        (227, 272), (272, 316), (316, 361), (361, 406)]
axes = []
for i, (top, bot) in enumerate(rows):
    ax = fig.add_axes([34 / W, 1 - bot / H, (617 - 34) / W, (bot - top) / H])
    ax.set_xlim(0, 15)
    ax.set_xticks(range(1, 15))
    ax.grid(True, color='#d4d4d4', lw=0.8)
    ax.set_axisbelow(True)
    ax.tick_params(length=0, labelsize=7, pad=3, labelcolor='#222222')
    ax.tick_params(axis='x', labelbottom=False)
    for s in ['left', 'right']:
        ax.spines[s].set_linewidth(0.8)
    ax.spines['top'].set_linewidth(0.8 if i == 0 else 2.0)
    ax.spines['bottom'].set_linewidth(0.8 if i == len(rows) - 1 else 2.0)
    axes.append(ax)

ax1, ax2, ax3, ax4, ax5, ax6, ax7, ax8, ax9 = axes

# 1: X-ray
ax1.set_yscale('log')
ax1.plot(xray_t, xray_f, color='#ff00ff', lw=0.8)
ax1.plot(flare_t, flare_f, 'o', ms=4, mfc='#c8c8ff', mec='#3c3cff', mew=1)
ax1.set_ylim(1.6e-7, 9e-4)
ax1.set_yticks([1e-6, 1e-5, 1e-4])
ax1.set_yticklabels(['C', 'M', 'X'], fontsize=7.5)
ax1.yaxis.set_minor_locator(NullLocator())

# 2: wind speed
ax2.plot(vsw_t, vsw_v, color='#00ee00', lw=0.8)
ax2.set_ylim(290, 840)
ax2.set_yticks([400, 500, 600, 700])
ax2.tick_params(axis='y', labelsize=6.5)

# 3: sector
ax3.fill_between(gray_t, gray_lo, gray_hi, color='#c8c8c8', alpha=0.45, lw=0)
ax3.fill_between(pink_t, pink_lo, pink_hi, color='#ffb8f2', alpha=0.9, lw=0)
ax3.fill_between(blue_t, blue_lo, blue_hi, color='#b2e6ff', alpha=0.9, lw=0)
ax3.plot(pink_dot_t, pink_dot_v, 's', ms=2.5, color='#ffb8f2', mew=0)
ax3.axhline(0, color='#505050', lw=0.8)
sv = np.array(sector_v, dtype=float)
ax3.plot(sector_t, sv, color='#4d6e4d', lw=0.9)
ax3.plot(sector_t, np.where(sv == 1, sv, nan), color='#4c5cf0', lw=1.1, zorder=4)
ax3.plot(sector_t, np.where(sv == -1, sv, nan), color='#f03c3c', lw=1.1, zorder=4)
ax3.set_ylim(-2, 2)
ax3.set_yticks([-1, 1])
ax3.set_yticklabels(['A', 'T'], fontsize=7.5)

# 4: Bt / Bz
ax4.plot(bz_t, bz_v, color='#ff0000', lw=0.9)
ax4.plot(bt_t, bt_v, color='#0000ff', lw=0.9)
ax4.axhline(0, color='#a00000', lw=1.0)
ax4.set_ylim(-19, 20)
ax4.set_yticks([-10, 0, 10])

# 5: Dst
ax5.axhline(0, color='#c86464', lw=2.5, alpha=0.85)
ax5.plot(dst_t, dst_v, color='#ee22ee', lw=0.8)
ax5.set_ylim(-98, 51)
ax5.set_yticks([-50, 0])

# 6: density
ax6.plot(dens_a_t, dens_a_v, color='#00f0f0', lw=0.9)
ax6.plot(dens_b_t, dens_b_v, color='#00f0f0', lw=0.9)
ax6.set_ylim(2, 59)
ax6.set_yticks([20, 40])

# 7: electrons
ax7.set_yscale('log')
ax7.plot(elec_t, 10 ** np.array(elec_log), color='#a424d4', lw=0.9)
ax7.axhline(1e7, color='#c00000', lw=1.0)
ax7.axhline(1e6, color='#c00000', lw=1.0)
ax7.set_ylim(10 ** 5.06, 10 ** 7.65)
ax7.set_yticks([1e6, 1e7])
ax7.set_yticklabels([r'$10^6$', r'$10^7$'])
ax7.yaxis.set_minor_locator(NullLocator())

# 8: particle flux
ax8.set_yscale('log')
ax8.plot(p8_blue_t, 10 ** np.array(p8_blue_log), color='#0000ff', lw=0.9)
ax8.plot(p8_red_t, 10 ** np.array(p8_red_log), color='#ff0000', lw=2.2, alpha=0.25)
ax8.plot(p8_red_t, 10 ** np.array(p8_red_log), color='#ff0000', lw=1.0)
ax8.axhline(1e4, color='#e02020', lw=1.2, dashes=(6, 4))
ax8.set_ylim(10 ** 0.86, 10 ** 5.14)
ax8.set_yticks([1e2, 1e3, 1e4])
ax8.set_yticklabels([r'$10^2$', r'$10^3$', r'$10^4$'])
ax8.tick_params(axis='y', labelsize=6.5)
ax8.yaxis.set_minor_locator(NullLocator())

# 9: flux
ax9.set_yscale('log')
ax9.plot(p9_t, 10 ** np.array(p9_log), color='#0000ff', lw=1.2)
ax9.set_ylim(10 ** -0.93, 10 ** 5.07)
ax9.set_yticks([1e0, 1e2, 1e4])
ax9.set_yticklabels([r'$10^0$', r'$10^2$', r'$10^4$'])
ax9.yaxis.set_minor_locator(NullLocator())

# bottom date labels sit between the day grid lines
ax9.set_xticks([k + 0.48 for k in range(15)], minor=True)
ax9.set_xticklabels(day_labels, minor=True)
ax9.tick_params(axis='x', which='both', length=0, labelbottom=True, labelsize=8.5, pad=3)
ax9.set_xticklabels([''] * 14)
fig.text(17 / W, 1 - 415 / H, '2026', fontsize=8.5, ha='center', va='center', color='#222222')

for y in [57, 101, 147, 282, 327]:
    fig.text(622 / W, 1 - y / H, 'rt', fontsize=6, va='center', color='#333333')

fig.savefig('out.png', dpi=100)
